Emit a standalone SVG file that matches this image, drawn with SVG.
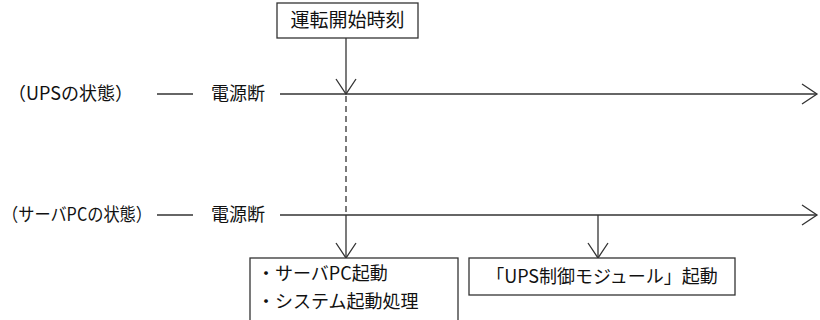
<svg xmlns="http://www.w3.org/2000/svg" width="820" height="320" viewBox="0 0 820 320">
<style>
text{font-family:"Noto Sans CJK JP","Noto Sans CJK SC",sans-serif;font-size:18px;fill:#111}
.box{fill:#fff;stroke:#333;stroke-width:1.3}
.ln{stroke:#333;stroke-width:1.3;fill:none}
.dash{stroke:#333;stroke-width:1.3;stroke-dasharray:6,4;fill:none}
</style>
<defs>
<marker id="ah" markerUnits="userSpaceOnUse" markerWidth="20" markerHeight="24" viewBox="0 0 20 24" refX="17" refY="12" orient="auto">
<path d="M2,2 L17,12 L2,22" fill="none" stroke="#333" stroke-width="1.3"/>
</marker>
</defs>
<g id="connectors">
<line class="ln" x1="280" y1="94" x2="817" y2="94" marker-end="url(#ah)"/>
<line class="ln" x1="280" y1="215" x2="817" y2="215" marker-end="url(#ah)"/>
<line class="ln" x1="346" y1="38" x2="346" y2="94" marker-end="url(#ah)"/>
<line class="dash" x1="346" y1="96" x2="346" y2="214"/>
<line class="ln" x1="346" y1="215" x2="346" y2="258" marker-end="url(#ah)"/>
<line class="ln" x1="598" y1="215" x2="598" y2="258" marker-end="url(#ah)"/>
<line class="ln" x1="157" y1="94" x2="193" y2="94"/>
<line class="ln" x1="157" y1="215" x2="193" y2="215"/>
</g>
<g id="start">
<rect class="box" x="277" y="3" width="141" height="35"/>
<text x="347.5" y="27" text-anchor="middle" style="font-size:19px">運転開始時刻</text>
</g>
<g id="ups-label">
<text x="8" y="100">（UPSの状態）</text>
<text x="211" y="100">電源断</text>
</g>
<g id="pc-label">
<text x="2" y="221" textLength="150" lengthAdjust="spacingAndGlyphs">（サーバPCの状態）</text>
<text x="211" y="221">電源断</text>
</g>
<g id="pc-start">
<rect class="box" x="250" y="258" width="208" height="70"/>
<text x="257" y="280">・サーバPC起動</text>
<text x="257" y="308">・システム起動処理</text>
</g>
<g id="ups-module">
<rect class="box" x="469" y="258" width="266" height="37"/>
<text x="602" y="283" text-anchor="middle">「UPS制御モジュール」起動</text>
</g>
</svg>
